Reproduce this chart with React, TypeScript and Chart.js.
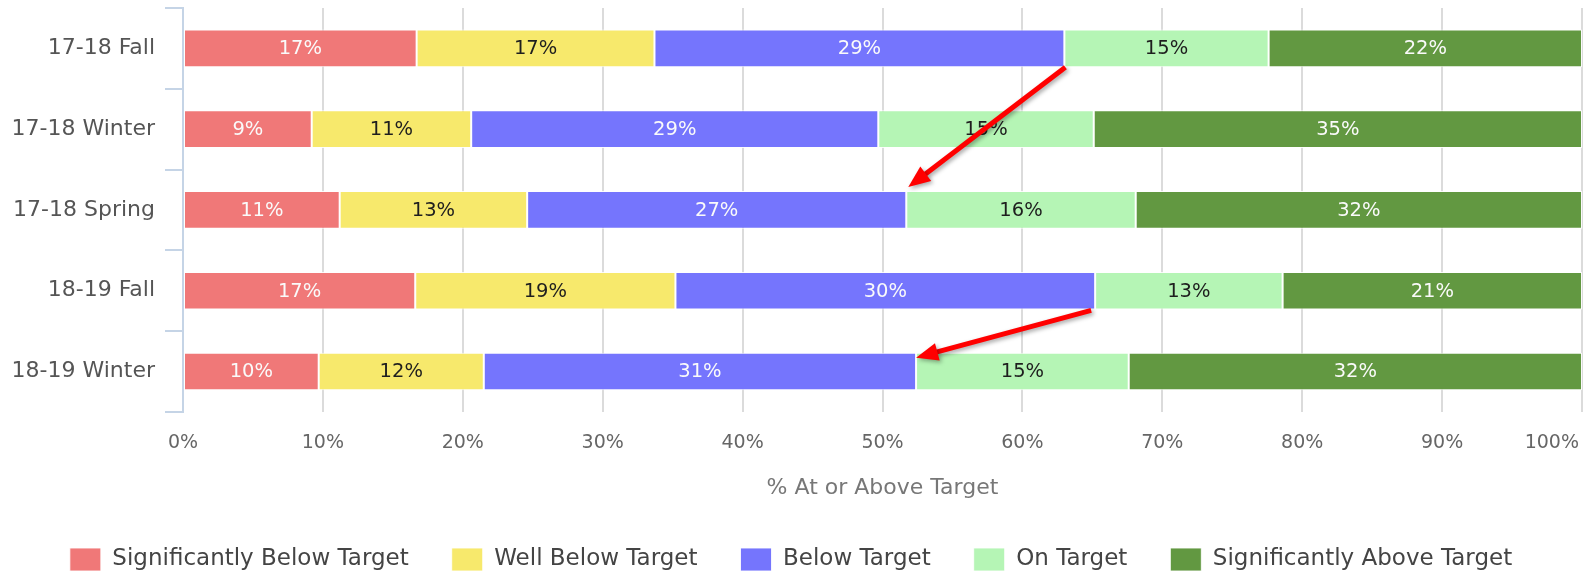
import React, { useEffect, useRef } from "react";
import { Chart, registerables } from "chart.js";

Chart.register(...registerables);

const FONT = "'DejaVu Sans', sans-serif";

const categories = ["17-18 Fall", "17-18 Winter", "17-18 Spring", "18-19 Fall", "18-19 Winter"];
const seriesNames = [
  "Significantly Below Target",
  "Well Below Target",
  "Below Target",
  "On Target",
  "Significantly Above Target",
];
const sigBelow = [16.7, 9.2, 11.2, 16.6, 9.7];
const wellBelow = [17.0, 11.4, 13.4, 18.6, 11.8];
const below = [29.3, 29.1, 27.1, 30.0, 30.9];
const onTarget = [14.6, 15.4, 16.4, 13.4, 15.2];
const sigAbove = [22.4, 34.9, 31.9, 21.4, 32.4];
const xTicks = [0, 10, 20, 30, 40, 50, 60, 70, 80, 90, 100];
// arrows: from end of "Below Target" in one row to another row
const arrowPairs = [
  [0, 2],
  [3, 4],
];

const colors = ["#F07878", "#F7E96C", "#7575FD", "#B5F5B5", "#629841"];
const labelColors = ["#FAFAFA", "#1E1E1E", "#FAFAFA", "#1E1E1E", "#FAFAFA"];

function drawArrow(ctx: CanvasRenderingContext2D, x1: number, y1: number, x2: number, y2: number) {
  const ang = Math.atan2(y2 - y1, x2 - x1);
  const headLen = 22;
  const headW = 9;
  const bx = x2 - headLen * Math.cos(ang);
  const by = y2 - headLen * Math.sin(ang);
  ctx.save();
  ctx.shadowColor = "rgba(0,0,0,0.35)";
  ctx.shadowBlur = 4;
  ctx.shadowOffsetX = 2;
  ctx.shadowOffsetY = 2;
  ctx.strokeStyle = "#FF0000";
  ctx.fillStyle = "#FF0000";
  ctx.lineWidth = 5;
  ctx.beginPath();
  ctx.moveTo(x1, y1);
  ctx.lineTo(bx + 2 * Math.cos(ang), by + 2 * Math.sin(ang));
  ctx.stroke();
  ctx.beginPath();
  ctx.moveTo(x2, y2);
  ctx.lineTo(bx + headW * Math.sin(ang), by - headW * Math.cos(ang));
  ctx.lineTo(bx - headW * Math.sin(ang), by + headW * Math.cos(ang));
  ctx.closePath();
  ctx.fill();
  ctx.restore();
}

const overlayPlugin = {
  id: "overlay",
  afterDraw(chart: any) {
    const ctx: CanvasRenderingContext2D = chart.ctx;
    // data labels
    ctx.save();
    ctx.font = `19.5px ${FONT}`;
    ctx.textAlign = "center";
    ctx.textBaseline = "middle";
    chart.data.datasets.forEach((ds: any, di: number) => {
      const meta = chart.getDatasetMeta(di);
      meta.data.forEach((el: any, i: number) => {
        const p = el.getProps(["x", "y", "base"], true);
        const cx = (p.x + p.base) / 2;
        ctx.fillStyle = labelColors[di];
        ctx.fillText(Math.round(ds.data[i]) + "%", cx, p.y + 1);
      });
    });
    ctx.restore();
    // arrows
    const meta = chart.getDatasetMeta(2);
    arrowPairs.forEach(([a, b], k) => {
      const ea = meta.data[a].getProps(["x", "y", "height"], true);
      const eb = meta.data[b].getProps(["x", "y", "height"], true);
      if (k === 0) {
        drawArrow(ctx, ea.x + 1, ea.y + ea.height / 2, eb.x + 2, eb.y - eb.height / 2 - 4);
      } else {
        drawArrow(ctx, ea.x - 4, ea.y + ea.height / 2 + 1, eb.x, eb.y - eb.height / 2 + 5);
      }
    });
  },
};

export default function App() {
  const ref = useRef<HTMLCanvasElement>(null);
  useEffect(() => {
    if (!ref.current) return;
    const series = [sigBelow, wellBelow, below, onTarget, sigAbove];
    const chart = new Chart(ref.current, {
      type: "bar",
      data: {
        labels: categories,
        datasets: series.map((d, i) => ({
          label: seriesNames[i],
          data: d,
          backgroundColor: colors[i],
          borderColor: "rgba(255,255,255,0.85)",
          borderWidth: 1,
          borderSkipped: false,
          barPercentage: 0.465,
          categoryPercentage: 1,
        })),
      },
      options: {
        animation: false,
        responsive: false,
        indexAxis: "y",
        layout: { padding: { top: 8, right: 13, left: 0, bottom: 0 } },
        plugins: {
          legend: {
            position: "bottom",
            labels: {
              boxWidth: 31,
              boxHeight: 23,
              padding: 43,
              color: "#444",
              font: { family: FONT, size: 23 },
            },
          },
          tooltip: { enabled: false },
        },
        scales: {
          x: {
            stacked: true,
            min: 0,
            max: 100,
            z: 1,
            afterBuildTicks: (s: any) => {
              s.ticks = xTicks.map((v) => ({ value: v }));
            },
            grid: {
              color: (c: any) => (c.index === 0 ? "rgba(0,0,0,0)" : "rgba(0,0,0,0.14)"),
              lineWidth: 2,
              drawTicks: false,
            },
            border: { display: false },
            ticks: {
              padding: 20,
              color: "#666",
              maxRotation: 0,
              autoSkip: false,
              font: { family: FONT, size: 19 },
              callback: (v: any) => (v === 100 ? "100%" + " ".repeat(10) : v + "%"),
            },
            title: {
              display: true,
              text: "% At or Above Target",
              color: "#777",
              font: { family: FONT, size: 22 },
              padding: { top: 0, bottom: 4 },
            },
            afterFit: (s: any) => {
              s.paddingLeft = 0;
              s.paddingRight = 0;
            },
          },
          y: {
            stacked: true,
            grid: {
              drawOnChartArea: false,
              drawTicks: true,
              tickLength: 18,
              color: "#C5D4E6",
              lineWidth: 2,
              offset: true,
            },
            border: { display: true, color: "#C5D4E6", width: 2 },
            ticks: { padding: 10, color: "#555", font: { family: FONT, size: 22 } },
            afterFit: (s: any) => {
              s.width = 183;
              s.paddingTop = 0;
              s.paddingBottom = 0;
            },
          },
        },
      },
      plugins: [overlayPlugin],
    } as any);
    return () => chart.destroy();
  }, []);
  return (
    <div style={{ position: "fixed", left: 0, top: 0, width: 1595, height: 572, overflow: "hidden", background: "#fff" }}>
      <canvas ref={ref} width={1595} height={581} style={{ display: "block" }} />
    </div>
  );
}
